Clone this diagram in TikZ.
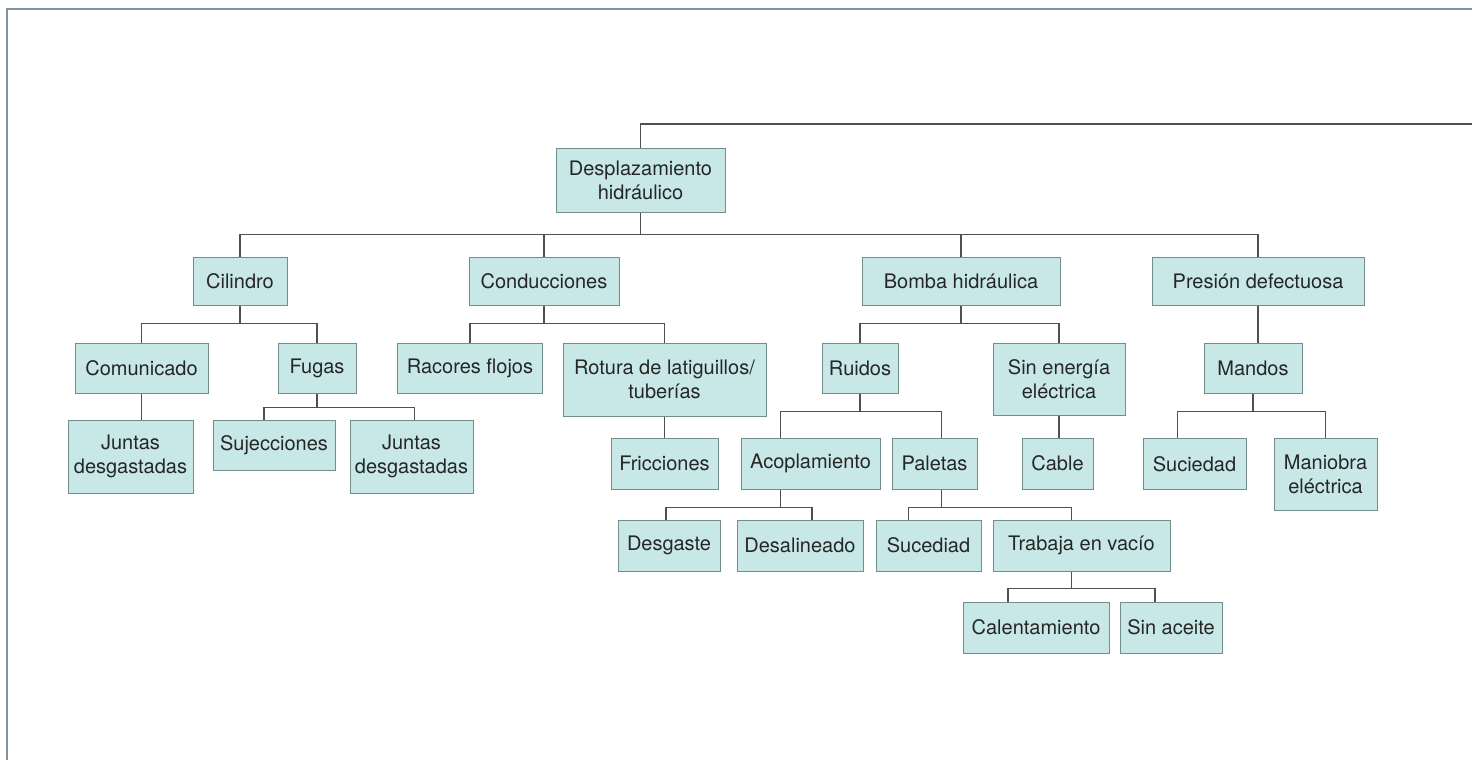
\documentclass[tikz,border=0pt]{standalone}
\usepackage{fontspec}
\setmainfont{TeX Gyre Heros}
\usepackage{xcolor}
\usepackage{tikz}

\definecolor{boxfill}{RGB}{200,232,232}
\definecolor{boxline}{RGB}{115,140,140}
\definecolor{linkgray}{RGB}{80,80,80}
\definecolor{framegray}{RGB}{130,145,155}

\begin{document}
\begin{tikzpicture}[x=1pt, y=-1pt,
    box/.style={draw=boxline, fill=boxfill, rectangle, line width=1pt, inner sep=0pt, align=center,
                text=black!85, font=\fontsize{20}{24}\selectfont},
    link/.style={draw=linkgray, line width=1.2pt}]
    \useasboundingbox (0,0) rectangle (1472,760);
    % Frame
    \draw[framegray, line width=2pt] (7,760) -- (7,9) -- (1472,9);
    \coordinate (topend) at (1472,124);

    % Nodes
    \node[box, minimum width=169, minimum height=64] (despl) at (640.5,180) {Desplazamiento\\hidráulico};

    \node[box, minimum width=94, minimum height=48] (cil) at (240,281) {Cilindro};
    \node[box, minimum width=150, minimum height=48] (cond) at (544,281) {Conducciones};
    \node[box, minimum width=198, minimum height=48] (bomba) at (961,281) {Bomba hidráulica};
    \node[box, minimum width=212, minimum height=48] (presion) at (1258,281) {Presión defectuosa};

    \node[box, minimum width=133, minimum height=50] (comun) at (141.5,368) {Comunicado};
    \node[box, minimum width=78, minimum height=50] (fugas) at (317,368) {Fugas};
    \node[box, minimum width=145, minimum height=50] (racores) at (470,368) {Racores flojos};
    \node[box, minimum width=203, minimum height=73] (rotura) at (664.5,379.5) {Rotura de latiguillos/\\tuberías};
    \node[box, minimum width=76, minimum height=50] (ruidos) at (860,368) {Ruidos};
    \node[box, minimum width=132, minimum height=72] (sinenergia) at (1059,379) {Sin energía\\eléctrica};
    \node[box, minimum width=98, minimum height=50] (mandos) at (1253,368) {Mandos};

    \node[box, minimum width=125, minimum height=73] (juntasA) at (130.5,456.5) {Juntas\\desgastadas};
    \node[box, minimum width=122, minimum height=50] (sujec) at (274,445) {Sujecciones};
    \node[box, minimum width=123, minimum height=73] (juntasB) at (411.5,456.5) {Juntas\\desgastadas};

    \node[box, minimum width=107, minimum height=51] (fricc) at (664.5,463.5) {Fricciones};
    \node[box, minimum width=139, minimum height=51] (acopl) at (810.5,463.5) {Acoplamiento};
    \node[box, minimum width=85, minimum height=51] (paletas) at (934.5,463.5) {Paletas};
    \node[box, minimum width=71, minimum height=51] (cable) at (1057.5,463.5) {Cable};
    \node[box, minimum width=103, minimum height=51] (sucied) at (1194.5,464) {Suciedad};
    \node[box, minimum width=103, minimum height=72] (maniobra) at (1325.5,474) {Maniobra\\eléctrica};

    \node[box, minimum width=102, minimum height=51] (desgaste) at (669,545.5) {Desgaste};
    \node[box, minimum width=126, minimum height=51] (desalin) at (800,545.5) {Desalineado};
    \node[box, minimum width=105, minimum height=51] (sucediad) at (928.5,545.5) {Sucediad};
    \node[box, minimum width=177, minimum height=51] (trabaja) at (1081.5,545.5) {Trabaja en vacío};

    \node[box, minimum width=146, minimum height=51] (calent) at (1036,627.5) {Calentamiento};
    \node[box, minimum width=102, minimum height=51] (sinaceite) at (1171,627.5) {Sin aceite};

    % Connections
    \draw[link] (despl.north) |- (topend);
    \draw[link] (despl.south) -- ++(0,22) -| (cil.north);
    \draw[link] (despl.south) -- ++(0,22) -| (cond.north);
    \draw[link] (despl.south) -- ++(0,22) -| (bomba.north);
    \draw[link] (despl.south) -- ++(0,22) -| (presion.north);

    \draw[link] (cil.south) -- ++(0,18) -| (comun.north);
    \draw[link] (cil.south) -- ++(0,18) -| (fugas.north);
    \draw[link] (comun.south) -- (comun.south |- juntasA.north);
    \draw[link] (fugas.south) -- ++(0,14) -| ([xshift=-10]sujec.north);
    \draw[link] (fugas.south) -- ++(0,14) -| ([xshift=3]juntasB.north);

    \draw[link] (cond.south) -- ++(0,18) -| (racores.north);
    \draw[link] (cond.south) -- ++(0,18) -| (rotura.north);
    \draw[link] (rotura.south) -- (rotura.south |- fricc.north);

    \draw[link] (bomba.south) -- ++(0,18) -| (ruidos.north);
    \draw[link] (bomba.south) -- ++(0,18) -| (sinenergia.north);
    \draw[link] (ruidos.south) -- ++(0,18) -| ([xshift=-30]acopl.north);
    \draw[link] (ruidos.south) -- ++(0,18) -| ([xshift=7]paletas.north);
    \draw[link] (sinenergia.south) -- (sinenergia.south |- cable.north);
    \draw[link] ([xshift=-30]acopl.south) -- ++(0,18) -| ([xshift=-3]desgaste.north);
    \draw[link] ([xshift=-30]acopl.south) -- ++(0,18) -| ([xshift=12]desalin.north);
    \draw[link] ([xshift=7]paletas.south) -- ++(0,18) -| ([xshift=-20]sucediad.north);
    \draw[link] ([xshift=7]paletas.south) -- ++(0,18) -| ([xshift=-10]trabaja.north);
    \draw[link] ([xshift=-10]trabaja.south) -- ++(0,17) -| ([xshift=-28]calent.north);
    \draw[link] ([xshift=-10]trabaja.south) -- ++(0,17) -| ([xshift=-16]sinaceite.north);

    \draw[link] (presion.south) -- (presion.south |- mandos.north);
    \draw[link] (mandos.south) -- ++(0,18) -| ([xshift=-17]sucied.north);
    \draw[link] (mandos.south) -- ++(0,18) -| (maniobra.north);
\end{tikzpicture}
\end{document}
